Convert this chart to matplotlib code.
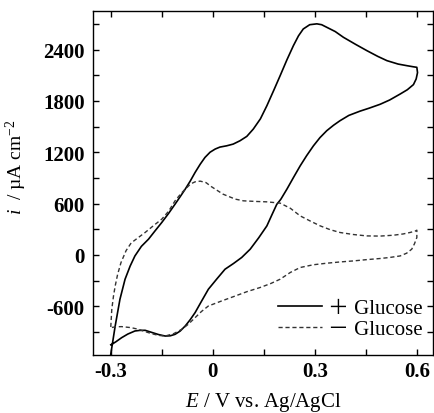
import matplotlib
matplotlib.use("Agg")

import matplotlib.pyplot as plt
from matplotlib.ticker import MultipleLocator

plt.rcParams["font.family"] = ["Liberation Serif", "Noto Sans CJK JP", "DejaVu Serif"]
plt.rcParams["mathtext.fontset"] = "custom"
plt.rcParams["mathtext.rm"] = "Liberation Serif"
plt.rcParams["mathtext.it"] = "Liberation Serif:italic"
plt.rcParams["axes.unicode_minus"] = False

# ---------------------------------------------------------------------------
# Data (E in V vs. Ag/AgCl, i in uA cm^-2)
# ---------------------------------------------------------------------------
# + Glucose: anodic sweep then cathodic sweep
E_glu = [-0.300, -0.287, -0.273, -0.258, -0.243, -0.229, -0.210, -0.189, -0.170,
         -0.150, -0.130, -0.111, -0.096, -0.081, -0.066, -0.052, -0.037, -0.023,
         -0.008, 0.007, 0.021, 0.041, 0.060, 0.080, 0.100, 0.119, 0.140, 0.159,
         0.180, 0.198, 0.218, 0.237, 0.252, 0.266, 0.285, 0.306, 0.320, 0.335,
         0.360, 0.384, 0.420, 0.453, 0.485, 0.512, 0.545, 0.571, 0.590, 0.600,
         0.602, 0.598, 0.590, 0.572, 0.551, 0.520, 0.492, 0.460, 0.433, 0.400,
         0.374, 0.355, 0.335, 0.315, 0.296, 0.276, 0.257, 0.238, 0.218, 0.200,
         0.188, 0.174, 0.159, 0.135, 0.110, 0.085, 0.061, 0.036, 0.012, -0.013,
         -0.033, -0.052, -0.067, -0.081, -0.096, -0.111, -0.125, -0.140, -0.160,
         -0.180, -0.199, -0.215, -0.229, -0.250, -0.268, -0.285, -0.297, -0.300]
i_glu = [-1160, -830, -518, -284, -130, -12, 100, 184, 280,
         379, 485, 593, 680, 769, 865, 964, 1060, 1139,
         1200, 1237, 1260, 1275, 1295, 1334, 1385, 1470, 1590, 1743,
         1930, 2094, 2280, 2445, 2560, 2640, 2690, 2700, 2690, 2660,
         2610, 2543, 2460, 2387, 2320, 2270, 2230, 2211, 2198, 2192,
         2130, 2056, 1990, 1930, 1880, 1810, 1760, 1715, 1680, 1630,
         1568, 1515, 1451, 1370, 1275, 1160, 1041, 910, 769, 650,
         590, 470, 339, 200, 67, -30, -100, -167, -280, -401,
         -540, -674, -760, -830, -890, -928, -945, -948, -930,
         -905, -881, -882, -889, -925, -967, -1015, -1045, -1050]

# - Glucose: anodic sweep then cathodic sweep
E_blank = [-0.300, -0.297, -0.292, -0.287, -0.280, -0.270, -0.255, -0.240, -0.220,
           -0.199, -0.175, -0.150, -0.130, -0.111, -0.095, -0.081, -0.065, -0.052,
           -0.037, -0.020, -0.005, 0.007, 0.030, 0.066, 0.090, 0.125, 0.159, 0.198,
           0.228, 0.257, 0.287, 0.316, 0.345, 0.374, 0.414, 0.453, 0.492, 0.531,
           0.560, 0.580, 0.595, 0.600,
           0.600, 0.593, 0.585, 0.570, 0.551, 0.520, 0.492, 0.453, 0.414, 0.375,
           0.335, 0.296, 0.257, 0.228, 0.198, 0.170, 0.139, 0.100, 0.066, 0.026,
           -0.013, -0.033, -0.052, -0.072, -0.091, -0.115, -0.140, -0.160, -0.180,
           -0.200, -0.219, -0.240, -0.268, -0.285, -0.297, -0.300]
i_blank = [-842, -635, -480, -363, -230, -90, 50, 140, 200,
           262, 340, 418, 510, 632, 710, 769, 830, 854,
           862, 845, 800, 769, 710, 652, 632, 625, 620, 605,
           545, 456, 395, 339, 295, 262, 238, 222, 220, 230,
           245, 262, 278, 289,
           203, 130, 67, 20, -12, -30, -42, -55, -70, -82,
           -97, -115, -147, -205, -284, -335, -381, -430, -480, -538,
           -597, -660, -733, -810, -869, -920, -948, -940, -920,
           -895, -869, -850, -838, -840, -848, -850]

x_ticks = [-0.3, 0, 0.3, 0.6]
x_tick_labels = ["-0.3", "0", "0.3", "0.6"]
y_ticks = [-600, 0, 600, 1200, 1800, 2400]

# fullwidth plus / minus signs give the wide, thin glyphs of the original
legend_labels = ["\uff0b Glucose", "\uff0d Glucose"]

# ---------------------------------------------------------------------------
fig = plt.figure(figsize=(4.35, 4.14), dpi=100)
ax = fig.add_subplot(111)
fig.subplots_adjust(left=0.214, right=0.995, top=0.971, bottom=0.140)

ax.plot(E_glu, i_glu, color="black", linewidth=1.2, label=legend_labels[0])
ax.plot(E_blank, i_blank, color="#333333", linewidth=1.0, linestyle=(0, (3, 2)),
        label=legend_labels[1])

ax.set_xlim(-0.352, 0.647)
ax.set_ylim(-1170, 2850)

ax.set_xticks(x_ticks)
ax.set_xticklabels(x_tick_labels)
ax.set_yticks(y_ticks)
ax.xaxis.set_minor_locator(MultipleLocator(0.15))
ax.yaxis.set_minor_locator(MultipleLocator(300))

ax.tick_params(which="both", direction="in", top=True, right=True,
               length=4.5, width=1.0, labelsize=15)
ax.tick_params(axis="x", pad=4)
ax.tick_params(axis="y", pad=6)
for lab in ax.get_xticklabels() + ax.get_yticklabels():
    lab.set_fontweight("bold")
for spine in ax.spines.values():
    spine.set_linewidth(1.0)

ax.set_xlabel("$E$ / V vs. Ag/AgCl", fontsize=15, labelpad=7)
ax.set_ylabel("$i$  / \u00b5A cm$^{-2}$", fontsize=14, labelpad=2)
ax.yaxis.set_label_coords(-0.19, 0.55)

ax.legend(loc="lower right", bbox_to_anchor=(0.983, 0.035), frameon=False,
          fontsize=15, handlelength=2.1, handletextpad=0.3, labelspacing=0.05,
          borderaxespad=0.0, borderpad=0.2)

fig.savefig("out.png", dpi=100)
